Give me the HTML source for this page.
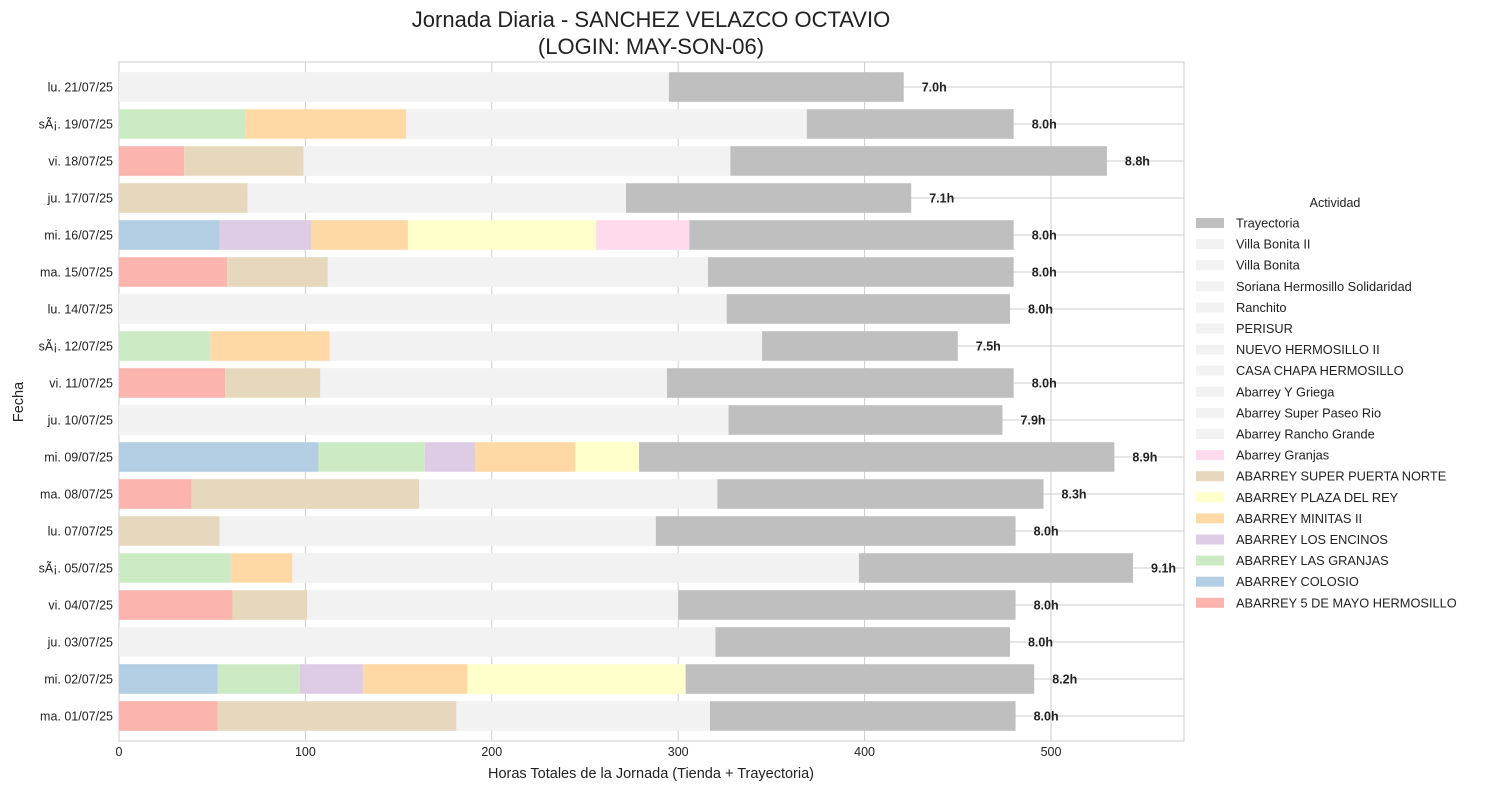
<!DOCTYPE html>
<html><head><meta charset="utf-8"><style>
body{margin:0;background:#fff;}
svg{display:block;font-family:"Liberation Sans",Arial,sans-serif;}
</style></head><body>
<svg id="chart" width="1490" height="790" xmlns="http://www.w3.org/2000/svg"></svg>
<script>
const dates = ["lu. 21/07/25","sÃ¡. 19/07/25","vi. 18/07/25","ju. 17/07/25","mi. 16/07/25","ma. 15/07/25","lu. 14/07/25","sÃ¡. 12/07/25","vi. 11/07/25","ju. 10/07/25","mi. 09/07/25","ma. 08/07/25","lu. 07/07/25","sÃ¡. 05/07/25","vi. 04/07/25","ju. 03/07/25","mi. 02/07/25","ma. 01/07/25"];
const s5mayo   = [0,0,35,0,0,58,0,0,57,0,0,39,0,0,61,0,0,53];
const sColosio = [0,0,0,0,54,0,0,0,0,0,107,0,0,0,0,0,53,0];
const sGranjasL= [0,68,0,0,0,0,0,49,0,0,57,0,0,60,0,0,44,0];
const sEncinos = [0,0,0,0,49,0,0,0,0,0,27,0,0,0,0,0,34,0];
const sMinitas = [0,86,0,0,52,0,0,64,0,0,54,0,0,33,0,0,56,0];
const sPlaza   = [0,0,0,0,101,0,0,0,0,0,34,0,0,0,0,0,117,0];
const sPuerta  = [0,0,64,69,0,54,0,0,51,0,0,122,54,0,40,0,0,128];
const sGranjas = [0,0,0,0,50,0,0,0,0,0,0,0,0,0,0,0,0,0];
const sOtras   = [295,215,229,203,0,204,326,232,186,327,0,160,234,304,199,320,0,136];
const sTraj    = [126,111,202,153,174,164,152,105,186,147,255,175,193,147,181,158,187,164];
const xTicks = [0,100,200,300,400,500];
const legendLabels = ["Trayectoria","Villa Bonita II","Villa Bonita","Soriana Hermosillo Solidaridad","Ranchito","PERISUR","NUEVO HERMOSILLO II","CASA CHAPA HERMOSILLO","Abarrey Y Griega","Abarrey Super Paseo Rio","Abarrey Rancho Grande","Abarrey Granjas","ABARREY SUPER PUERTA NORTE","ABARREY PLAZA DEL REY","ABARREY MINITAS II","ABARREY LOS ENCINOS","ABARREY LAS GRANJAS","ABARREY COLOSIO","ABARREY 5 DE MAYO HERMOSILLO"];
const legendColors = ["#bfbfbf","#f2f2f2","#f2f2f2","#f2f2f2","#f2f2f2","#f2f2f2","#f2f2f2","#f2f2f2","#f2f2f2","#f2f2f2","#f2f2f2","#fddaec","#e5d8bd","#ffffcc","#fed9a6","#decbe4","#ccebc5","#b3cde3","#fbb4ae"];

const NS="http://www.w3.org/2000/svg";
const svg=document.getElementById('chart');
function el(tag,attrs,parent,text){const e=document.createElementNS(NS,tag);for(const k in attrs)e.setAttribute(k,attrs[k]);if(text!==undefined)e.textContent=text;(parent||svg).appendChild(e);return e;}
const L=119,R=1184,T=62,B=741;
const xs=v=>L+v*1.864;
const ys=i=>87+i*37;
const bh=29.6;

el('rect',{x:L,y:T,width:R-L,height:B-T,fill:'#fff',stroke:'#cccccc','stroke-width':1});
xTicks.forEach(t=>{
  const g=el('line',{x1:xs(t),x2:xs(t),y1:T,y2:B,stroke:'#cccccc','stroke-width':1});
  
  
  const tx=el('text',{x:xs(t),y:756,'font-size':12.5,'text-anchor':'middle',fill:'#222'},null,String(t));
  
  
});
dates.forEach((d,i)=>{
  const g=el('line',{x1:L,x2:R,y1:ys(i),y2:ys(i),stroke:'#cccccc','stroke-width':1});
  
  
  const t=el('text',{x:113,y:ys(i)+4.5,'font-size':12.5,'text-anchor':'end',fill:'#222'},null,d);
  
  
});
const series=[[s5mayo,"#fbb4ae"],[sColosio,"#b3cde3"],[sGranjasL,"#ccebc5"],[sEncinos,"#decbe4"],[sMinitas,"#fed9a6"],[sPlaza,"#ffffcc"],[sPuerta,"#e5d8bd"],[sGranjas,"#fddaec"],[sOtras,"#f2f2f2"],[sTraj,"#bfbfbf"]];
dates.forEach((d,i)=>{
  let acc=0;
  series.forEach(([arr,c])=>{
    const v=arr[i];
    if(v>0){
      const r=el('rect',{x:xs(acc),y:ys(i)-bh/2,width:xs(acc+v)-xs(acc),height:bh,fill:c});
      
      
    }
    acc+=v;
  });
  const t=el('text',{x:xs(acc)+18,y:ys(i)+4.5,'font-size':12.5,'font-weight':'bold',fill:'#222'},null,(acc/60).toFixed(1)+'h');
  
  
});
</script>
<script>
(function(){
const svg=document.getElementById('chart');
const NS="http://www.w3.org/2000/svg";
function el(tag,attrs,text){const e=document.createElementNS(NS,tag);for(const k in attrs)e.setAttribute(k,attrs[k]);if(text!==undefined)e.textContent=text;svg.appendChild(e);return e;}
let t=el('text',{x:651,y:27,'font-size':22,'text-anchor':'middle',fill:'#222'},'Jornada Diaria - SANCHEZ VELAZCO OCTAVIO');


t=el('text',{x:651,y:54,'font-size':22,'text-anchor':'middle',fill:'#222'},'(LOGIN: MAY-SON-06)');


t=el('text',{x:651,y:778,'font-size':14.5,'text-anchor':'middle',fill:'#222'},'Horas Totales de la Jornada (Tienda + Trayectoria)');


t=el('text',{x:23,y:402,'font-size':14.5,'text-anchor':'middle',fill:'#222',transform:'rotate(-90 23 402)'},'Fecha');


t=el('text',{x:1335,y:207,'font-size':12.5,'text-anchor':'middle',fill:'#222'},'Actividad');


legendLabels.forEach((lab,i)=>{
  const y=223+i*21.1;
  const r=el('rect',{x:1196,y:y-5,width:28,height:10,fill:legendColors[i]});
  
  
  const tx=el('text',{x:1236,y:y+4.5,'font-size':12.8,fill:'#222'},lab);
  
  
});
})();
</script>
</body></html>
